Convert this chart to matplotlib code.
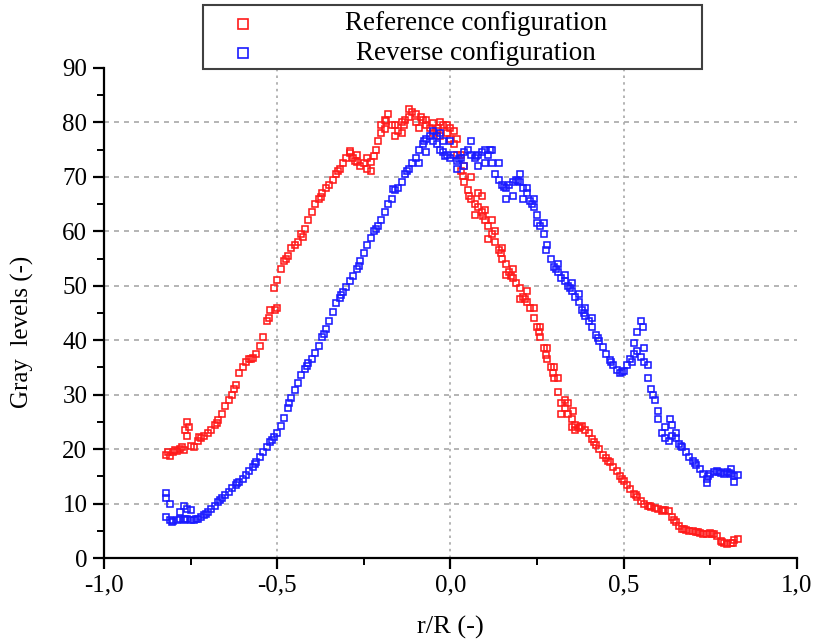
import numpy as np
import matplotlib
matplotlib.use("Agg")
import matplotlib.pyplot as plt
from matplotlib.patches import Rectangle
from matplotlib.lines import Line2D
from matplotlib.ticker import FixedLocator, FixedFormatter, MultipleLocator

plt.rcParams['font.family'] = ['Liberation Serif', 'DejaVu Serif']

# sampling positions r/R (-0.82 ... 0.83, step 0.01)
r_pos = np.round(np.linspace(-0.82, 0.83, 166), 2)

# reference configuration (red)
ref_y = [19.0, 18.8, 19.5, 19.6, 20.0, 19.8, 22.5, 20.5, 20.4, 21.5,
         22.0, 22.5, 23.0, 23.6, 24.5, 25.3, 26.5, 28.0, 29.0, 30.0,
         31.8, 34.0, 35.0, 36.0, 36.5, 36.8, 37.5, 39.0, 40.5, 43.5,
         45.5, 49.5, 51.0, 53.0, 54.5, 55.5, 57.0, 57.5, 58.0, 59.5,
         60.5, 62.0, 63.5, 65.0, 66.0, 67.0, 68.0, 68.5, 69.5, 70.5,
         71.5, 72.5, 73.5, 74.3, 73.5, 72.8, 72.0, 72.5, 73.5, 72.8,
         73.8, 76.5, 79.5, 80.5, 81.5, 79.5, 77.5, 78.5, 78.0, 80.5,
         81.0, 82.0, 80.0, 79.0, 80.5, 79.5, 79.0, 79.8, 78.5, 80.0,
         79.5, 78.0, 77.0, 76.0, 74.0, 71.0, 69.0, 67.5, 66.0, 65.0,
         64.5, 63.5, 62.0, 61.0, 59.5, 58.0, 56.5, 55.0, 54.0, 52.5,
         51.5, 50.5, 49.5, 48.0, 47.0, 46.0, 44.0, 42.5, 40.5, 38.5,
         36.5, 35.0, 33.0, 30.5, 28.5, 27.5, 26.5, 25.5, 24.5, 23.8,
         24.2, 23.5, 23.0, 21.8, 20.8, 20.0, 19.0, 18.3, 17.6, 16.8,
         16.0, 15.0, 14.2, 13.4, 12.6, 11.8, 11.2, 10.5, 10.0, 9.6,
         9.4, 9.2, 9.0, 8.6, 8.8, 8.6, 7.6, 6.6, 5.8, 5.4,
         5.2, 5.0, 5.0, 4.8, 4.6, 4.5, 4.4, 4.6, 4.4, 4.0,
         3.2, 2.8, 2.6, 2.8, 3.3, 3.5]

# extra scattered points of the red cloud
ref_x_extra = [-0.76, -0.755, -0.765, -0.50, -0.505, -0.29, -0.27, -0.23, -0.24, -0.20,
               -0.19, -0.16, -0.14, -0.12, -0.10, -0.07, -0.05, -0.03, -0.01, 0.00,
               0.01, 0.02, 0.03, 0.04, 0.06, 0.07, 0.08, 0.09, 0.10, 0.11,
               0.12, 0.13, 0.15, 0.16, 0.18, 0.20, 0.22, 0.24, 0.26, 0.28,
               0.30, 0.31, 0.32, 0.33, 0.34, 0.35, 0.355, 0.36,
               -0.815, -0.795, -0.775, -0.725, -0.675, -0.625, -0.575, -0.525, -0.475, -0.425,
               -0.375, -0.325, -0.275, -0.215, -0.185, -0.135, -0.085, -0.035, 0.035, 0.055,
               0.095, 0.145, 0.175, 0.215, 0.255, 0.275, 0.295, 0.375, 0.415, 0.455,
               0.495, 0.535, 0.575, 0.615, 0.645, 0.675, 0.715, 0.755, 0.785, 0.815]
ref_y_extra = [25.0, 24.0, 23.5, 46.0, 45.5, 74.8, 74.0, 71.0, 71.5, 78.0,
               78.8, 79.5, 80.0, 82.5, 81.5, 80.5, 78.0, 77.5, 79.5, 79.0,
               78.5, 77.0, 74.0, 72.0, 70.0, 63.0, 67.0, 66.5, 64.0, 58.5,
               62.0, 60.0, 57.0, 52.0, 53.0, 47.5, 49.0, 46.0, 42.5, 38.5,
               35.0, 33.0, 26.5, 29.0, 28.5, 24.0, 27.0, 23.5,
               19.5, 19.8, 20.3, 22.2, 24.8, 31.0, 36.6, 44.0, 55.0, 59.0,
               66.3, 71.0, 73.0, 75.0, 80.2, 79.5, 81.0, 79.0, 70.2, 66.5,
               62.8, 56.0, 51.8, 47.5, 41.5, 37.3, 34.0, 24.0, 21.3, 17.9,
               14.6, 11.5, 9.5, 8.8, 7.0, 5.3, 4.7, 4.5, 3.0, 2.7]

# reverse configuration (blue)
rev_y = [7.5, 7.0, 6.8, 7.0, 7.2, 7.0, 7.2, 7.0, 7.0, 7.2,
         7.5, 7.9, 8.4, 9.0, 9.6, 10.3, 11.0, 11.6, 12.2, 12.8,
         13.5, 14.0, 14.6, 15.3, 16.0, 16.8, 17.6, 18.5, 19.5, 20.4,
         21.3, 22.2, 23.0, 24.3, 25.8, 27.5, 29.3, 30.8, 32.2, 33.6,
         34.8, 35.8, 36.6, 37.6, 39.0, 40.5, 42.0, 43.5, 45.2, 46.8,
         47.8, 48.8, 49.8, 50.8, 51.8, 53.0, 54.5, 56.0, 57.5, 58.8,
         60.0, 61.0, 62.0, 63.5, 65.0, 66.0, 67.5, 68.0, 69.0, 70.5,
         71.5, 72.5, 73.5, 75.0, 76.0, 77.0, 77.5, 76.5, 76.0, 75.0,
         74.5, 74.0, 73.5, 74.0, 73.0, 73.5, 74.5, 75.0, 74.0, 73.5,
         74.0, 74.5, 75.0, 74.0, 72.5, 70.5, 69.5, 68.5, 68.0, 68.5,
         69.0, 69.5, 69.0, 68.0, 67.0, 65.5, 64.5, 63.0, 61.0, 59.5,
         57.5, 55.0, 53.5, 52.5, 51.5, 50.8, 50.0, 49.0, 48.0, 47.0,
         45.5, 44.5, 43.5, 42.5, 41.0, 39.8, 38.8, 37.5, 36.3, 35.5,
         34.5, 34.0, 34.3, 35.5, 36.5, 37.5, 38.0, 37.0, 36.0, 33.0,
         31.0, 29.0, 25.5, 23.0, 22.0, 21.5, 22.5, 22.0, 21.0, 20.3,
         19.5, 18.5, 17.8, 17.0, 16.3, 15.5, 14.5, 15.5, 15.8, 16.0,
         15.7, 15.5, 15.8, 15.4, 15.0, 15.3]

rev_x_extra = [-0.82, -0.82, -0.81, -0.78, -0.77, -0.76, -0.75, -0.09, -0.07, -0.05,
               -0.04, -0.03, -0.02, 0.00, 0.02, 0.04, 0.06, 0.08, 0.10, 0.12,
               0.14, 0.16, 0.18, 0.20, 0.21, 0.22, 0.24, 0.25, 0.27, 0.31,
               0.33, 0.35, 0.37, 0.39, 0.41, 0.53, 0.54, 0.55, 0.555, 0.56,
               0.57, 0.60, 0.62, 0.635, 0.64, 0.65, 0.74, 0.82, 0.81,
               -0.805, -0.765, -0.735, -0.705, -0.665, -0.615, -0.565, -0.515, -0.465, -0.415,
               -0.365, -0.315, -0.265, -0.215, -0.165, -0.125, -0.075, -0.015, 0.025, 0.075,
               0.115, 0.155, 0.195, 0.235, 0.275, 0.305, 0.345, 0.385, 0.425, 0.465,
               0.495, 0.525, 0.585, 0.665, 0.705, 0.745, 0.775, 0.805]
rev_y_extra = [12.0, 11.0, 10.0, 8.5, 9.5, 9.0, 8.8, 72.5, 74.5, 78.5,
               77.5, 78.0, 76.5, 76.5, 71.5, 72.0, 76.5, 72.0, 72.5, 75.0,
               72.5, 66.0, 66.5, 70.5, 66.0, 68.0, 66.0, 61.5, 61.5, 54.0,
               52.0, 50.5, 48.5, 46.0, 44.0, 39.5, 41.5, 43.5, 42.5, 38.5,
               35.5, 27.0, 24.0, 25.5, 24.5, 23.0, 13.8, 14.0, 16.3,
               6.6, 7.1, 7.1, 8.1, 10.6, 13.8, 17.2, 21.7, 28.4, 35.3,
               41.2, 48.3, 53.7, 60.5, 67.7, 71.0, 76.5, 73.8, 73.3, 73.8,
               75.0, 68.2, 69.2, 65.0, 56.5, 53.0, 49.5, 45.0, 40.4, 36.0,
               34.2, 36.0, 30.0, 20.6, 17.4, 15.0, 15.8, 15.6]

series_labels = ['Reference configuration', 'Reverse configuration']
series_colors = ['#ff1a1a', '#1a1aff']

x_ticks = [-1.0, -0.5, 0.0, 0.5, 1.0]
x_tick_labels = ['-1,0', '-0,5', '0,0', '0,5', '1,0']
y_ticks = [0, 10, 20, 30, 40, 50, 60, 70, 80, 90]

fig = plt.figure(figsize=(8.14, 6.44), dpi=100)
ax = fig.add_axes([0.1278, 0.1335, 0.851, 0.761])

mk = dict(marker='s', markersize=4.8, markerfacecolor='none', markeredgewidth=1.15, linestyle='none')
ax.plot(r_pos, ref_y, color=series_colors[0], **mk)
ax.plot(ref_x_extra, ref_y_extra, color=series_colors[0], **mk)
ax.plot(r_pos, rev_y, color=series_colors[1], **mk)
ax.plot(rev_x_extra, rev_y_extra, color=series_colors[1], **mk)

ax.set_xlim(-1.0, 1.0)
ax.set_ylim(0, 90)

# grid
for yv in y_ticks[1:-1]:
    ax.axhline(yv, color='#a8a8a8', lw=1.2, ls=(0, (3, 3)), zorder=0)
for xv in x_ticks[1:-1]:
    ax.axvline(xv, color='#a8a8a8', lw=1.2, ls=(0, (1.5, 2.5)), zorder=0)

ax.spines['top'].set_visible(False)
ax.spines['right'].set_visible(False)
for s in ['left', 'bottom']:
    ax.spines[s].set_linewidth(1.6)

ax.xaxis.set_major_locator(FixedLocator(x_ticks))
ax.xaxis.set_major_formatter(FixedFormatter(x_tick_labels))
ax.xaxis.set_minor_locator(MultipleLocator(0.25))
ax.yaxis.set_major_locator(FixedLocator(y_ticks))
ax.yaxis.set_minor_locator(MultipleLocator(5))
ax.tick_params(which='major', direction='out', length=8, width=1.6, labelsize=18, pad=4)
ax.tick_params(which='minor', direction='out', length=5, width=1.4)

fig.text(0.553, 0.026, 'r/R (-)', ha='center', va='center', fontsize=19)
fig.text(0.027, 0.485, 'Gray  levels (-)', ha='center', va='center', fontsize=18, rotation=90)

# legend box
W, H = 814.0, 644.0
fig.patches.append(Rectangle((203 / W, 1 - 69 / H), (702 - 203) / W, (69 - 5) / H,
                             transform=fig.transFigure, fill=True, facecolor='white',
                             edgecolor='#404040', lw=1.5, zorder=5))
for i, (lab, col) in enumerate(zip(series_labels, series_colors)):
    yy = 1 - (24 + 29 * i) / H
    fig.lines.append(Line2D([243 / W], [yy], transform=fig.transFigure, color=col,
                            marker='s', markersize=7, markerfacecolor='none',
                            markeredgewidth=1.2, linestyle='none', zorder=6))
    fig.text(476 / W, yy, lab, ha='center', va='center', fontsize=19.5, zorder=6)

fig.savefig('out.png', dpi=100)
